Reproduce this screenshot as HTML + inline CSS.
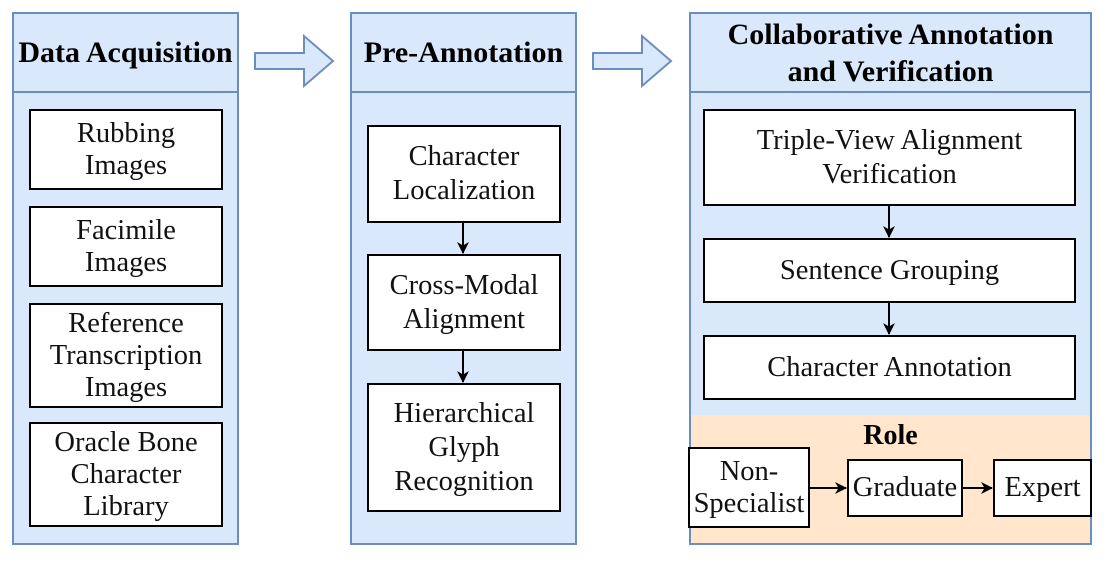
<!DOCTYPE html>
<html><head><style>
body{margin:0;width:1107px;height:566px;background:#fff;position:relative;overflow:hidden;font-family:"Liberation Serif",serif;}
.a{position:absolute;box-sizing:border-box;}
.col{background:#dae8fc;border:2px solid #6c8ebf;}
.b{position:absolute;box-sizing:border-box;background:#fff;border:2px solid #000;display:flex;align-items:center;justify-content:center;text-align:center;font-size:28.5px;line-height:32px;color:#111;white-space:nowrap;}
.h{position:absolute;display:flex;align-items:center;justify-content:center;text-align:center;font-weight:bold;font-size:30px;line-height:37px;color:#000;white-space:nowrap;}
</style></head><body>
<div class="a col" style="left:12px;top:12px;width:227px;height:533px"></div>
<div class="a" style="left:12px;top:91px;width:227px;border-top:2px solid #6c8ebf"></div>
<div class="h" style="left:12px;top:12px;width:227px;height:80px">Data Acquisition</div>
<div class="b" style="left:29px;top:109px;width:194px;height:81px">Rubbing<br>Images</div>
<div class="b" style="left:29px;top:206px;width:194px;height:81px">Facimile<br>Images</div>
<div class="b" style="left:29px;top:303px;width:194px;height:105px">Reference<br>Transcription<br>Images</div>
<div class="b" style="left:29px;top:422px;width:194px;height:105px">Oracle Bone<br>Character<br>Library</div>

<div class="a col" style="left:350px;top:12px;width:227px;height:533px"></div>
<div class="a" style="left:350px;top:91px;width:227px;border-top:2px solid #6c8ebf"></div>
<div class="h" style="left:350px;top:12px;width:227px;height:80px">Pre-Annotation</div>
<div class="b" style="left:367px;top:125px;width:194px;height:98px;line-height:34px">Character<br>Localization</div>
<div class="b" style="left:367px;top:254px;width:194px;height:97px;line-height:34px">Cross-Modal<br>Alignment</div>
<div class="b" style="left:367px;top:383px;width:194px;height:129px;line-height:34px">Hierarchical<br>Glyph<br>Recognition</div>

<div class="a col" style="left:689px;top:12px;width:403px;height:533px"></div>
<div class="a" style="left:689px;top:91px;width:403px;border-top:2px solid #6c8ebf"></div>
<div class="h" style="left:689px;top:14px;width:403px;height:78px">Collaborative Annotation<br>and Verification</div>
<div class="a" style="left:691px;top:415px;width:399px;height:128px;background:#ffe6cc"></div>
<div class="h" style="left:689px;top:420px;width:403px;height:30px;font-size:28px">Role</div>
<div class="b" style="left:703px;top:109px;width:373px;height:97px;line-height:34px">Triple-View Alignment<br>Verification</div>
<div class="b" style="left:703px;top:238px;width:373px;height:65px">Sentence Grouping</div>
<div class="b" style="left:703px;top:335px;width:373px;height:65px">Character Annotation</div>
<div class="b" style="left:688px;top:447px;width:122px;height:81px">Non-<br>Specialist</div>
<div class="b" style="left:847px;top:459px;width:116px;height:58px">Graduate</div>
<div class="b" style="left:993px;top:459px;width:99px;height:58px">Expert</div>

<svg class="a" style="left:0;top:0" width="1107" height="566">
<defs><marker id="m" markerWidth="12" markerHeight="12" refX="11" refY="6" orient="auto" markerUnits="userSpaceOnUse"><path d="M0,0 L12,6 L0,12 L3.5,6z" fill="#000"/></marker></defs>
<path d="M255,53 H304 V36 L333,61 L304,86 V69 H255z" fill="#dae8fc" stroke="#6c8ebf" stroke-width="2"/>
<path d="M593,53 H642 V36 L671,61 L642,86 V69 H593z" fill="#dae8fc" stroke="#6c8ebf" stroke-width="2"/>
<g stroke="#000" stroke-width="2" marker-end="url(#m)">
<line x1="463" y1="223" x2="463" y2="253"/>
<line x1="463" y1="351" x2="463" y2="382"/>
<line x1="889" y1="206" x2="889" y2="237"/>
<line x1="889" y1="303" x2="889" y2="334"/>
<line x1="810" y1="488" x2="846" y2="488"/>
<line x1="963" y1="488" x2="992" y2="488"/>
</g>
</svg>
</body></html>
